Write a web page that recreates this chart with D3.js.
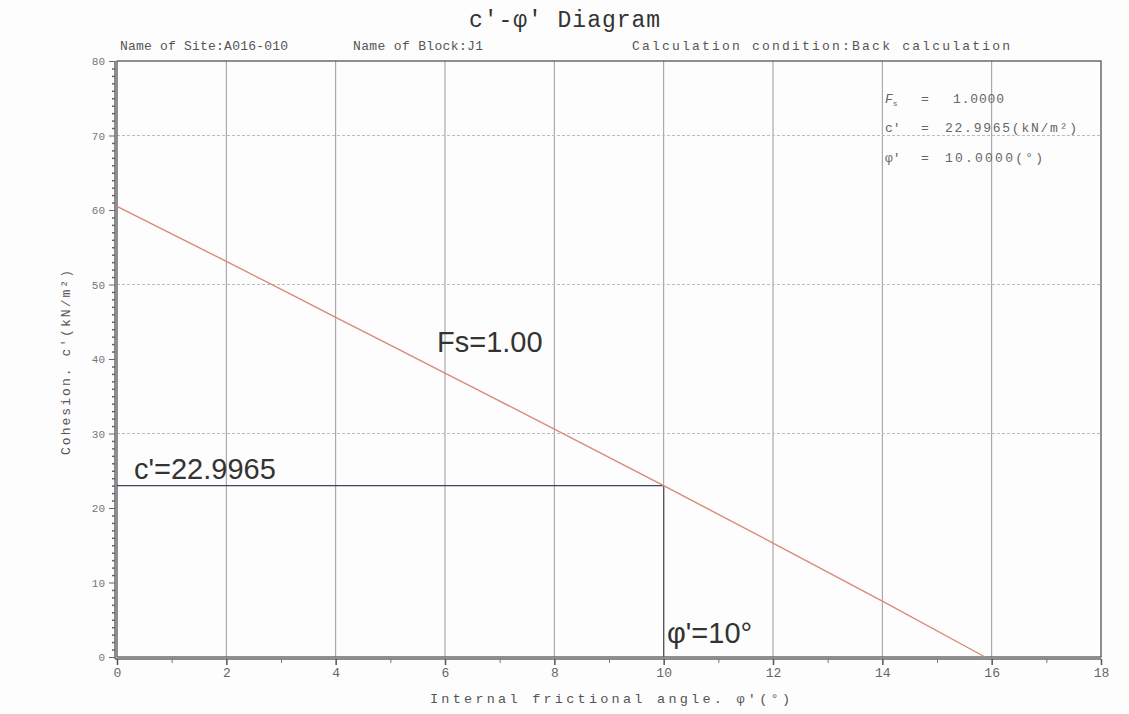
<!DOCTYPE html>
<html><head><meta charset="utf-8">
<script src="https://cdn.jsdelivr.net/npm/d3@7"></script>
<style>html,body{margin:0;padding:0;background:#fdfdfd;}svg{display:block;}</style>
</head><body>
<script>
// ---- data ----
const phiValues = [0, 2, 4, 6, 8, 10, 12, 14, 15.88];
const cValues   = [60.5, 53.1, 45.6, 38.1, 30.6, 23.0, 15.3, 7.5, 0];
const xTicks = [0, 2, 4, 6, 8, 10, 12, 14, 16, 18];
const yTicks = [0, 10, 20, 30, 40, 50, 60, 70, 80];
const yGridDashed = [30, 50, 70];
const resultPhi = 10;
const resultC = 22.9965;
const resultFs = 1.0;
const titleText = "c'-φ' Diagram";
const headerTexts = ["Name of Site:A016-010", "Name of Block:J1", "Calculation condition:Back calculation"];

const W = 1129, H = 714;
const m = {left: 117, right: 1101, top: 61, bottom: 657};
const svg = d3.select("body").append("svg").attr("width", W).attr("height", H);
svg.append("rect").attr("width", W).attr("height", H).attr("fill", "#fdfdfd");

const x = d3.scaleLinear().domain([0, 18]).range([m.left, m.right]);
const y = d3.scaleLinear().domain([0, 80]).range([m.bottom, m.top]);
const mono = "'Liberation Mono','DejaVu Sans Mono',monospace";

// vertical grid
svg.append("g").selectAll("line").data(xTicks.slice(1, -1)).join("line")
  .attr("x1", d => x(d)).attr("x2", d => x(d)).attr("y1", m.top).attr("y2", m.bottom)
  .attr("stroke", "#9a9a9a").attr("stroke-width", 1);
// horizontal dashed grid
svg.append("g").selectAll("line").data(yGridDashed).join("line")
  .attr("x1", m.left).attr("x2", m.right).attr("y1", d => y(d)).attr("y2", d => y(d))
  .attr("stroke", "#bdbdbd").attr("stroke-width", 1).attr("stroke-dasharray", "3,2");

// frame
svg.append("rect").attr("x", m.left).attr("y", m.top).attr("width", m.right - m.left).attr("height", m.bottom - m.top)
  .attr("fill", "none").attr("stroke", "#555").attr("stroke-width", 1.3);
svg.append("line").attr("x1", m.left - 2).attr("x2", m.left - 2).attr("y1", m.top).attr("y2", m.bottom + 2)
  .attr("stroke", "#666").attr("stroke-width", 1.5);
svg.append("line").attr("x1", m.left - 2).attr("x2", m.right).attr("y1", m.bottom + 2).attr("y2", m.bottom + 2)
  .attr("stroke", "#666").attr("stroke-width", 1.5);

// y axis
const yAxis = d3.axisLeft(y).tickValues(yTicks).tickSize(6).tickPadding(4).tickFormat(d3.format("d"));
const gy = svg.append("g").attr("transform", `translate(${m.left - 2},0)`).call(yAxis);
gy.select(".domain").remove();
gy.selectAll("line").attr("stroke", "#666");
gy.selectAll("text").attr("font-family", mono).attr("font-size", 11).attr("fill", "#777");
const yMinor = d3.axisLeft(y).tickValues(d3.range(0, 81, 1).filter(v => v % 10 !== 0)).tickSize(3).tickFormat("");
const gym = svg.append("g").attr("transform", `translate(${m.left - 2},0)`).call(yMinor);
gym.select(".domain").remove();
gym.selectAll("line").attr("stroke", "#666").attr("stroke-width", 1.5);

// x axis
const xAxis = d3.axisBottom(x).tickValues(xTicks).tickSize(6).tickPadding(3).tickFormat(d3.format("d"));
const gx = svg.append("g").attr("transform", `translate(0,${m.bottom + 2})`).call(xAxis);
gx.select(".domain").remove();
gx.selectAll("line").attr("stroke", "#555").attr("stroke-width", 1.5);
gx.selectAll("text").attr("font-family", mono).attr("font-size", 13).attr("fill", "#666");
const xMinor = d3.axisBottom(x).tickValues(d3.range(1, 18, 2)).tickSize(4).tickFormat("");
const gxm = svg.append("g").attr("transform", `translate(0,${m.bottom + 2})`).call(xMinor);
gxm.select(".domain").remove();
gxm.selectAll("line").attr("stroke", "#777");

// result lines
svg.append("line").attr("x1", x(0)).attr("x2", x(resultPhi)).attr("y1", y(resultC)).attr("y2", y(resultC))
  .attr("stroke", "#3a4560").attr("stroke-width", 1.3);
svg.append("line").attr("x1", x(resultPhi)).attr("x2", x(resultPhi)).attr("y1", y(resultC)).attr("y2", y(0))
  .attr("stroke", "#555").attr("stroke-width", 1.3);

// Fs line
const pts = phiValues.map((p, i) => [p, cValues[i]]);
svg.append("path").datum(pts)
  .attr("d", d3.line().x(d => x(d[0])).y(d => y(d[1])).curve(d3.curveMonotoneX))
  .attr("fill", "none").attr("stroke", "#d98a78").attr("stroke-width", 1.4);

// titles
svg.append("text").attr("x", 469).attr("y", 27)
  .attr("font-family", mono).attr("font-size", 23).attr("fill", "#333")
  .attr("textLength", 191).attr("lengthAdjust", "spacing").text(titleText);
const hx = [120, 353, 632];
const hw = [168, 130, 378];
headerTexts.forEach((t, i) => svg.append("text").attr("x", hx[i]).attr("y", 50)
  .attr("font-family", mono).attr("font-size", 13).attr("fill", "#555")
  .attr("textLength", hw[i]).attr("lengthAdjust", "spacing").text(t));

// axis labels
svg.append("text").attr("x", 430).attr("y", 703)
  .attr("font-family", mono).attr("font-size", 13.5).attr("fill", "#555")
  .attr("textLength", 360).attr("lengthAdjust", "spacing").text("Internal frictional angle. φ'(°)");
svg.append("text").attr("transform", "translate(70,455) rotate(-90)")
  .attr("font-family", mono).attr("font-size", 13).attr("fill", "#555")
  .attr("textLength", 185).attr("lengthAdjust", "spacing").text("Cohesion. c'(kN/m²)");

// legend (top right)
const lg = svg.append("g").attr("font-family", mono).attr("font-size", 13).attr("fill", "#666");
const fsT = lg.append("text").attr("x", 885).attr("y", 103);
fsT.append("tspan").attr("font-style", "italic").text("F");
fsT.append("tspan").attr("font-size", 8).attr("dy", 3).text("s");
lg.append("text").attr("x", 921).attr("y", 103).text("=");
lg.append("text").attr("x", 953).attr("y", 103).attr("textLength", 51).attr("lengthAdjust", "spacing")
  .text(d3.format(".4f")(resultFs));
lg.append("text").attr("x", 885).attr("y", 132).text("c'");
lg.append("text").attr("x", 921).attr("y", 132).text("=");
lg.append("text").attr("x", 945).attr("y", 132).attr("textLength", 132).attr("lengthAdjust", "spacing")
  .text(d3.format(".4f")(resultC) + "(kN/m²)");
lg.append("text").attr("x", 885).attr("y", 162).text("φ'");
lg.append("text").attr("x", 921).attr("y", 162).text("=");
lg.append("text").attr("x", 945).attr("y", 162).attr("textLength", 98).attr("lengthAdjust", "spacing")
  .text(d3.format(".4f")(resultPhi) + "(°)");

// annotations
const sans = "'Liberation Sans',Arial,sans-serif";
svg.append("text").attr("x", 437).attr("y", 352).attr("font-family", sans).attr("font-size", 29)
  .attr("fill", "#333").text("Fs=" + d3.format(".2f")(resultFs));
svg.append("text").attr("x", 134).attr("y", 479).attr("font-family", sans).attr("font-size", 29)
  .attr("fill", "#333").text("c'=" + d3.format(".4f")(resultC));
svg.append("text").attr("x", 667).attr("y", 643).attr("font-family", sans).attr("font-size", 29)
  .attr("fill", "#333").text("φ'=" + resultPhi + "°");
</script>
</body></html>
